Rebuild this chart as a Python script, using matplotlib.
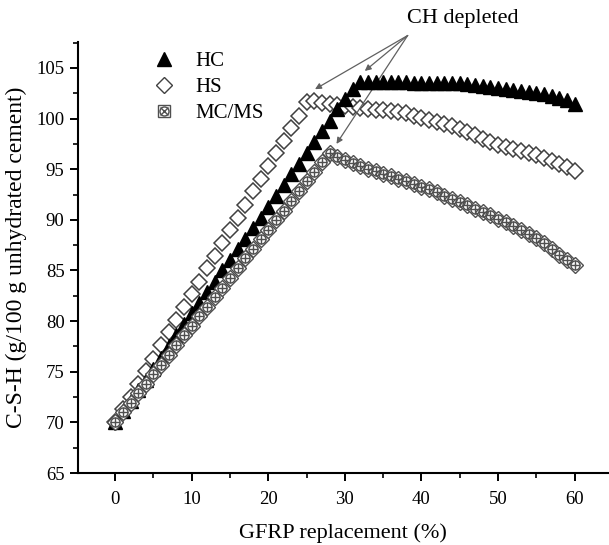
import matplotlib
matplotlib.use("Agg")
import matplotlib.pyplot as plt
from matplotlib.lines import Line2D
from matplotlib.ticker import MultipleLocator

plt.rcParams['font.family'] = ['Liberation Serif', 'DejaVu Serif']

# ---------------- data ----------------
gfrp = list(range(0, 61))

hc = [70.0, 71.1, 72.1, 73.2, 74.2, 75.3, 76.4, 77.5, 78.6, 79.7,
      80.8, 81.8, 82.9, 83.9, 85.0, 86.0, 87.1, 88.1, 89.2, 90.2,
      91.3, 92.4, 93.4, 94.5, 95.5, 96.6, 97.7, 98.8, 99.8, 100.9,
      101.9, 102.9, 103.6, 103.6, 103.6, 103.6, 103.6, 103.6, 103.6, 103.5,
      103.5, 103.5, 103.5, 103.5, 103.5, 103.5, 103.4, 103.3, 103.2, 103.1,
      103.0, 102.9, 102.8, 102.7, 102.6, 102.5, 102.4, 102.2, 102.0, 101.8,
      101.4]

hs = [70.0, 71.3, 72.5, 73.8, 75.1, 76.3, 77.6, 78.9, 80.1, 81.4,
      82.7, 83.9, 85.2, 86.4, 87.7, 89.0, 90.2, 91.5, 92.8, 94.0,
      95.3, 96.6, 97.8, 99.1, 100.3, 101.6, 101.7, 101.5, 101.4, 101.3,
      101.2, 101.1, 101.0, 100.9, 100.85, 100.8, 100.7, 100.6, 100.5, 100.3,
      100.1, 99.9, 99.7, 99.5, 99.25, 99.0, 98.7, 98.4, 98.0, 97.7,
      97.4, 97.2, 97.0, 96.8, 96.6, 96.4, 96.1, 95.8, 95.5, 95.2,
      94.85]

mcms = [70.0, 71.0, 71.9, 72.9, 73.8, 74.8, 75.7, 76.7, 77.6, 78.6,
        79.5, 80.5, 81.4, 82.4, 83.3, 84.3, 85.2, 86.2, 87.1, 88.1,
        89.0, 90.0, 90.9, 91.9, 92.8, 93.8, 94.7, 95.7, 96.6, 96.2,
        95.9, 95.6, 95.3, 95.0, 94.8, 94.5, 94.3, 94.0, 93.8, 93.5,
        93.2, 93.0, 92.7, 92.4, 92.1, 91.8, 91.5, 91.1, 90.8, 90.5,
        90.1, 89.8, 89.4, 89.0, 88.6, 88.2, 87.7, 87.1, 86.5, 86.0,
        85.5]

# where the "CH depleted" arrows land (peaks of each series)
note_text = "CH depleted"
note_xy = (45.4, 109.9)
arrow_from = (38.2, 108.2)
arrow_to = [(26.1, 102.9), (32.6, 104.7), (28.9, 97.5)]

# ---------------- figure ----------------
fig = plt.figure(figsize=(6.09, 5.45), dpi=100)
ax = fig.add_axes([0.1276, 0.132, 0.8724, 0.7917])

gray = '#505050'

ax.plot(gfrp, hc, linestyle='none', marker='^', markersize=10,
        color='black', zorder=4)
ax.plot(gfrp, hs, linestyle='none', marker='D', markersize=8,
        markerfacecolor='white', markeredgecolor='#404040',
        markeredgewidth=1.1, zorder=3)
# MC/MS: diamond + circle + cross, drawn as overlaid markers
ax.plot(gfrp, mcms, linestyle='none', marker='D', markersize=8,
        markerfacecolor='white', markeredgecolor=gray, markeredgewidth=1.0, zorder=5)
ax.plot(gfrp, mcms, linestyle='none', marker='o', markersize=6.5,
        markerfacecolor='none', markeredgecolor=gray, markeredgewidth=1.0, zorder=5)
ax.plot(gfrp, mcms, linestyle='none', marker='+', markersize=7,
        markeredgecolor=gray, markeredgewidth=1.0, zorder=5)

# annotation
ax.text(note_xy[0], note_xy[1], note_text, ha='center', va='center',
        fontsize=16, clip_on=False)
for tx, ty in arrow_to:
    ax.annotate('', xy=(tx, ty), xytext=arrow_from,
                arrowprops=dict(arrowstyle='-|>', color='#606060', lw=0.9,
                                mutation_scale=9, shrinkA=0, shrinkB=0),
                annotation_clip=False)

# legend
h_hc = Line2D([], [], linestyle='none', marker='^', markersize=10, color='black')
h_hs = Line2D([], [], linestyle='none', marker='D', markersize=8,
              markerfacecolor='white', markeredgecolor='#404040')
h_m1 = Line2D([], [], linestyle='none', marker='s', markersize=8,
              markerfacecolor='white', markeredgecolor=gray)
h_m2 = Line2D([], [], linestyle='none', marker='o', markersize=6.5,
              markerfacecolor='none', markeredgecolor=gray)
h_m3 = Line2D([], [], linestyle='none', marker='x', markersize=6,
              markeredgecolor=gray)
ax.legend([h_hc, h_hs, (h_m1, h_m2, h_m3)], ['HC', 'HS', 'MC/MS'],
          loc='upper left', bbox_to_anchor=(0.107, 1.02), frameon=False,
          fontsize=15, handlelength=1.0, handletextpad=1.0, labelspacing=0.3)

# axes styling
ax.set_xlim(-4.9, 64.5)
ax.set_ylim(65, 107.6)
ax.xaxis.set_major_locator(MultipleLocator(10))
ax.xaxis.set_minor_locator(MultipleLocator(5))
ax.yaxis.set_major_locator(MultipleLocator(5))
ax.yaxis.set_minor_locator(MultipleLocator(2.5))
ax.spines['top'].set_visible(False)
ax.spines['right'].set_visible(False)
for s in ('left', 'bottom'):
    ax.spines[s].set_linewidth(1.5)
ax.tick_params(which='major', direction='out', length=6, width=1.4, labelsize=13.5)
ax.tick_params(which='minor', direction='out', length=3.5, width=1.2)
ax.tick_params(axis='x', which='both', pad=7)

ax.set_xlabel('GFRP replacement (%)', fontsize=16, labelpad=11)
ax.set_ylabel('C-S-H (g/100 g unhydrated cement)', fontsize=17, labelpad=7)

fig.savefig('out.png', dpi=100)
